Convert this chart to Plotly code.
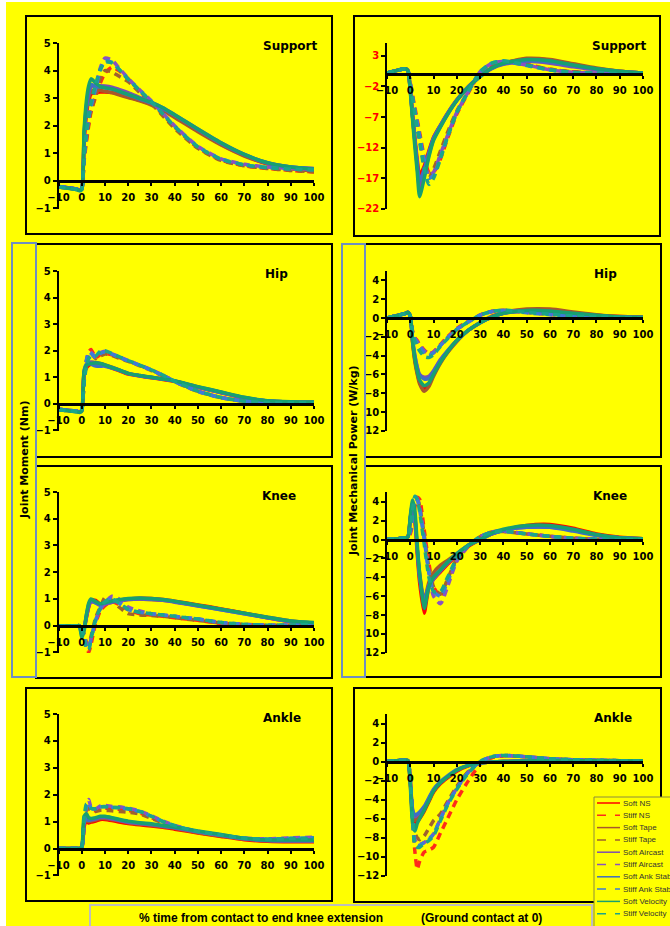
import plotly.graph_objects as go

W, H = 670, 926

# ---------------- data ----------------
X = [-10, -2, -1, 0, 1, 2, 3, 4, 6, 8, 10, 13, 16, 20, 25, 30, 35, 40, 50, 60, 70, 80, 90, 100]
X_TICKS = [-10, 0, 10, 20, 30, 40, 50, 60, 70, 80, 90, 100]

SERIES = ["Soft NS", "Stiff NS", "Soft Tape", "Stiff Tape", "Soft Aircast", "Stiff Aircast",
          "Soft Ank Stab", "Stiff Ank Stab", "Soft Velocity", "Stiff Velocity"]
COLORS = ["#FF0000", "#FF2A1A", "#A8582A", "#A0622D", "#7F4FB0", "#8A52C0",
          "#3D6FC4", "#3B7DD8", "#17A070", "#1BA58A"]
DASHES = ["solid", "7px,5px", "solid", "7px,5px", "solid", "7px,5px",
          "solid", "7px,5px", "solid", "7px,5px"]

support_moment = [
    [-0.20, -0.30, -0.33, -0.30, 1.40, 2.40, 2.90, 3.15, 3.20, 3.22, 3.22, 3.20, 3.15, 3.05, 2.92, 2.78, 2.58, 2.33, 1.82, 1.32, 0.92, 0.62, 0.46, 0.38],
    [-0.20, -0.30, -0.33, -0.30, 0.70, 1.40, 2.00, 2.50, 3.05, 3.55, 3.90, 4.12, 4.00, 3.70, 3.25, 2.85, 2.40, 1.95, 1.20, 0.75, 0.55, 0.45, 0.38, 0.32],
    [-0.22, -0.31, -0.34, -0.30, 1.50, 2.50, 3.00, 3.25, 3.30, 3.28, 3.25, 3.20, 3.12, 3.02, 2.90, 2.75, 2.55, 2.30, 1.78, 1.30, 0.90, 0.62, 0.45, 0.35],
    [-0.22, -0.31, -0.34, -0.30, 0.80, 1.50, 2.10, 2.55, 3.10, 3.70, 4.00, 3.95, 3.80, 3.60, 3.20, 2.80, 2.35, 1.90, 1.18, 0.74, 0.55, 0.45, 0.38, 0.33],
    [-0.20, -0.30, -0.34, -0.30, 1.60, 2.60, 3.15, 3.40, 3.45, 3.45, 3.44, 3.40, 3.32, 3.20, 3.02, 2.85, 2.65, 2.40, 1.88, 1.38, 0.96, 0.66, 0.50, 0.45],
    [-0.20, -0.30, -0.34, -0.30, 0.90, 1.70, 2.30, 2.75, 3.40, 4.10, 4.45, 4.38, 4.10, 3.72, 3.30, 2.90, 2.45, 2.00, 1.25, 0.80, 0.60, 0.50, 0.45, 0.42],
    [-0.20, -0.30, -0.35, -0.30, 1.70, 2.70, 3.25, 3.50, 3.42, 3.40, 3.38, 3.33, 3.25, 3.12, 2.97, 2.82, 2.62, 2.38, 1.86, 1.36, 0.95, 0.65, 0.50, 0.44],
    [-0.20, -0.30, -0.35, -0.30, 0.85, 1.65, 2.30, 2.70, 3.35, 4.00, 4.35, 4.30, 4.05, 3.70, 3.28, 2.88, 2.43, 1.98, 1.24, 0.79, 0.58, 0.48, 0.43, 0.40],
    [-0.22, -0.32, -0.36, -0.32, 1.80, 2.90, 3.45, 3.70, 3.55, 3.42, 3.38, 3.33, 3.25, 3.14, 2.99, 2.85, 2.65, 2.40, 1.88, 1.38, 0.96, 0.66, 0.50, 0.42],
    [-0.22, -0.32, -0.36, -0.32, 0.90, 1.75, 2.40, 2.85, 3.50, 4.05, 4.30, 4.28, 4.05, 3.68, 3.27, 2.87, 2.42, 1.97, 1.23, 0.78, 0.58, 0.48, 0.43, 0.40],
]

support_power = [
    [0.2, 0.9, 0.6, -2.5, -6.5, -10.5, -14.0, -16.5, -15.0, -12.5, -10.3, -8.3, -6.4, -4.2, -2.0, -0.3, 1.0, 1.8, 2.5, 2.3, 1.6, 0.9, 0.5, 0.2],
    [0.2, 0.9, 0.6, -1.5, -3.5, -5.5, -7.5, -9.5, -13.5, -16.0, -16.0, -13.8, -10.5, -6.5, -3.0, 0.2, 1.6, 2.0, 1.6, 0.8, 0.4, 0.2, 0.1, 0.0],
    [0.2, 0.9, 0.6, -2.5, -7.0, -11.0, -15.0, -18.0, -16.0, -13.0, -10.5, -8.5, -6.5, -4.3, -2.1, -0.4, 1.0, 1.8, 2.6, 2.4, 1.7, 1.0, 0.5, 0.2],
    [0.2, 0.9, 0.6, -1.5, -3.8, -6.0, -8.0, -10.0, -15.0, -17.0, -15.5, -12.5, -9.5, -6.0, -2.8, 0.4, 1.7, 2.0, 1.5, 0.8, 0.4, 0.2, 0.1, 0.0],
    [0.2, 0.9, 0.6, -2.5, -7.0, -11.0, -15.0, -18.5, -16.5, -13.2, -10.6, -8.5, -6.6, -4.3, -2.1, -0.4, 0.9, 1.6, 2.1, 1.8, 1.2, 0.7, 0.4, 0.2],
    [0.2, 0.9, 0.6, -1.5, -3.8, -6.0, -8.0, -10.5, -14.5, -16.5, -16.0, -13.0, -10.0, -6.2, -2.8, 0.4, 1.8, 2.1, 1.5, 0.7, 0.3, 0.2, 0.1, 0.0],
    [0.2, 0.9, 0.6, -2.5, -7.0, -11.0, -14.5, -17.5, -15.5, -12.8, -10.4, -8.3, -6.4, -4.2, -2.0, -0.3, 1.0, 1.7, 2.2, 2.0, 1.4, 0.8, 0.4, 0.2],
    [0.2, 0.9, 0.6, -1.5, -3.8, -6.0, -8.0, -10.0, -14.0, -17.0, -16.5, -13.5, -10.2, -6.2, -2.8, 0.4, 1.8, 2.1, 1.4, 0.7, 0.3, 0.2, 0.1, 0.0],
    [0.2, 0.9, 0.6, -2.8, -7.5, -12.0, -16.0, -20.0, -17.0, -13.5, -10.8, -8.6, -6.6, -4.3, -2.1, -0.4, 1.0, 1.8, 2.4, 2.2, 1.5, 0.9, 0.5, 0.2],
    [0.2, 0.9, 0.6, -1.8, -4.0, -6.5, -9.0, -11.0, -15.5, -18.0, -17.0, -13.8, -10.3, -6.3, -2.8, 0.4, 1.8, 2.2, 1.5, 0.7, 0.3, 0.2, 0.1, 0.0],
]

hip_moment = [
    [-0.20, -0.28, -0.30, -0.25, 1.10, 1.35, 1.45, 1.50, 1.52, 1.50, 1.45, 1.35, 1.25, 1.12, 1.05, 0.98, 0.92, 0.85, 0.62, 0.42, 0.22, 0.10, 0.06, 0.05],
    [-0.20, -0.28, -0.30, -0.22, 0.80, 1.60, 1.95, 2.05, 1.75, 1.85, 1.90, 1.85, 1.75, 1.62, 1.45, 1.28, 1.08, 0.85, 0.48, 0.24, 0.10, 0.05, 0.03, 0.03],
    [-0.22, -0.29, -0.31, -0.25, 1.15, 1.40, 1.50, 1.55, 1.55, 1.52, 1.47, 1.38, 1.28, 1.15, 1.07, 1.00, 0.94, 0.86, 0.64, 0.44, 0.24, 0.11, 0.07, 0.06],
    [-0.22, -0.29, -0.31, -0.22, 0.85, 1.55, 1.85, 1.90, 1.70, 1.80, 1.88, 1.82, 1.72, 1.60, 1.43, 1.25, 1.05, 0.83, 0.47, 0.23, 0.10, 0.05, 0.03, 0.03],
    [-0.20, -0.28, -0.30, -0.25, 1.20, 1.45, 1.55, 1.58, 1.55, 1.50, 1.45, 1.36, 1.27, 1.14, 1.06, 0.99, 0.93, 0.86, 0.63, 0.43, 0.23, 0.11, 0.07, 0.06],
    [-0.20, -0.28, -0.30, -0.22, 0.85, 1.60, 1.90, 1.95, 1.75, 1.92, 1.98, 1.88, 1.78, 1.63, 1.46, 1.28, 1.08, 0.85, 0.48, 0.24, 0.10, 0.05, 0.03, 0.03],
    [-0.20, -0.28, -0.30, -0.25, 1.25, 1.50, 1.55, 1.50, 1.42, 1.42, 1.42, 1.35, 1.27, 1.14, 1.06, 0.99, 0.93, 0.86, 0.63, 0.43, 0.23, 0.11, 0.07, 0.06],
    [-0.20, -0.28, -0.30, -0.22, 0.90, 1.65, 1.95, 1.90, 1.75, 1.90, 1.95, 1.87, 1.76, 1.62, 1.45, 1.27, 1.07, 0.84, 0.47, 0.23, 0.10, 0.05, 0.03, 0.03],
    [-0.22, -0.30, -0.32, -0.28, 1.20, 1.45, 1.50, 1.52, 1.55, 1.52, 1.47, 1.37, 1.28, 1.15, 1.07, 1.00, 0.94, 0.87, 0.65, 0.45, 0.25, 0.12, 0.08, 0.07],
    [-0.22, -0.30, -0.32, -0.24, 0.80, 1.40, 1.70, 1.80, 1.80, 1.98, 2.00, 1.90, 1.78, 1.63, 1.46, 1.28, 1.08, 0.85, 0.48, 0.24, 0.10, 0.05, 0.03, 0.03],
]

hip_power = [
    [0.0, 0.5, 0.6, 0.2, -2.5, -4.5, -5.8, -6.8, -7.5, -7.0, -6.0, -4.6, -3.6, -2.4, -1.3, -0.5, 0.1, 0.5, 0.80, 0.80, 0.55, 0.30, 0.15, 0.10],
    [0.0, 0.5, 0.6, 0.2, -1.4, -2.1, -2.4, -2.8, -3.4, -3.8, -3.6, -2.8, -2.0, -1.1, -0.3, 0.3, 0.7, 0.8, 0.60, 0.40, 0.20, 0.10, 0.05, 0.00],
    [0.0, 0.5, 0.6, 0.2, -2.6, -4.7, -6.0, -7.0, -7.8, -7.3, -6.2, -4.8, -3.7, -2.5, -1.3, -0.5, 0.2, 0.6, 0.95, 0.95, 0.65, 0.35, 0.15, 0.10],
    [0.0, 0.5, 0.6, 0.2, -1.5, -2.2, -2.6, -3.0, -3.5, -3.9, -3.7, -2.9, -2.1, -1.2, -0.4, 0.3, 0.7, 0.8, 0.60, 0.40, 0.20, 0.10, 0.05, 0.00],
    [0.0, 0.5, 0.6, 0.2, -2.3, -4.0, -5.2, -6.0, -6.3, -6.2, -5.6, -4.4, -3.5, -2.4, -1.3, -0.5, 0.1, 0.5, 0.75, 0.70, 0.45, 0.25, 0.10, 0.05],
    [0.0, 0.5, 0.6, 0.2, -1.5, -2.2, -2.5, -2.9, -3.5, -3.8, -3.6, -2.9, -2.1, -1.2, -0.4, 0.3, 0.7, 0.8, 0.60, 0.40, 0.20, 0.10, 0.05, 0.00],
    [0.0, 0.5, 0.6, 0.2, -2.3, -4.1, -5.3, -6.1, -6.5, -6.4, -5.7, -4.5, -3.5, -2.4, -1.3, -0.5, 0.1, 0.5, 0.75, 0.70, 0.45, 0.25, 0.10, 0.05],
    [0.0, 0.5, 0.6, 0.2, -1.6, -2.3, -2.6, -3.0, -3.7, -4.0, -3.7, -2.9, -2.1, -1.2, -0.4, 0.3, 0.7, 0.8, 0.55, 0.35, 0.15, 0.08, 0.03, 0.00],
    [0.0, 0.5, 0.6, 0.2, -2.5, -4.4, -5.7, -6.6, -7.2, -6.9, -6.0, -4.7, -3.6, -2.4, -1.3, -0.5, 0.1, 0.5, 0.80, 0.75, 0.50, 0.30, 0.12, 0.08],
    [0.0, 0.5, 0.6, 0.2, -1.7, -2.5, -3.0, -3.5, -4.1, -4.2, -3.9, -3.0, -2.2, -1.2, -0.4, 0.3, 0.7, 0.85, 0.60, 0.40, 0.20, 0.10, 0.05, 0.00],
]

knee_moment = [
    [0, 0, 0, -0.20, -0.10, 0.30, 0.70, 0.95, 0.95, 0.80, 0.85, 0.90, 0.95, 1.00, 1.03, 1.02, 0.98, 0.92, 0.78, 0.63, 0.47, 0.30, 0.15, 0.05],
    [0, 0, 0, -0.10, -0.40, -0.80, -1.00, -0.70, 0.10, 0.55, 0.75, 0.90, 0.80, 0.60, 0.45, 0.40, 0.35, 0.30, 0.20, 0.08, 0.02, 0.00, 0.00, 0.00],
    [0, 0, 0, -0.25, -0.10, 0.35, 0.75, 0.95, 0.90, 0.80, 0.82, 0.88, 0.93, 0.98, 1.00, 0.98, 0.95, 0.90, 0.76, 0.62, 0.47, 0.32, 0.18, 0.10],
    [0, 0, 0, -0.10, -0.30, -0.60, -0.70, -0.40, 0.30, 0.70, 1.05, 0.95, 0.70, 0.45, 0.40, 0.38, 0.35, 0.30, 0.20, 0.10, 0.05, 0.02, 0.02, 0.05],
    [0, 0, 0, -0.30, -0.15, 0.30, 0.70, 0.90, 0.85, 0.75, 0.80, 0.88, 0.93, 0.98, 1.00, 0.98, 0.95, 0.88, 0.74, 0.60, 0.45, 0.30, 0.15, 0.08],
    [0, 0, 0, -0.10, -0.35, -0.70, -0.80, -0.50, 0.20, 0.60, 0.85, 1.10, 1.00, 0.70, 0.55, 0.45, 0.40, 0.35, 0.25, 0.12, 0.05, 0.02, 0.02, 0.05],
    [0, 0, 0, -0.35, -0.10, 0.40, 0.80, 0.95, 0.85, 0.80, 0.85, 0.90, 0.95, 1.00, 1.02, 1.00, 0.97, 0.90, 0.75, 0.60, 0.45, 0.30, 0.16, 0.10],
    [0, 0, 0, -0.10, -0.40, -0.75, -0.85, -0.50, 0.20, 0.65, 0.90, 1.00, 0.85, 0.60, 0.50, 0.45, 0.40, 0.35, 0.25, 0.12, 0.05, 0.02, 0.02, 0.05],
    [0, 0, 0, -0.45, -0.20, 0.40, 0.85, 1.00, 0.90, 0.82, 0.86, 0.92, 0.97, 1.02, 1.04, 1.02, 0.98, 0.92, 0.77, 0.62, 0.47, 0.32, 0.18, 0.12],
    [0, 0, 0, -0.10, -0.45, -0.85, -0.90, -0.50, 0.25, 0.65, 0.90, 1.00, 0.85, 0.62, 0.50, 0.45, 0.40, 0.35, 0.25, 0.12, 0.05, 0.02, 0.03, 0.05],
]

knee_power = [
    [0, 0.2, 0.3, 2.0, 3.5, 2.0, -1.5, -4.5, -7.8, -5.0, -4.2, -3.4, -2.6, -1.7, -0.7, 0.0, 0.6, 1.0, 1.5, 1.6, 1.2, 0.6, 0.25, 0.1],
    [0, 0.2, 0.3, 0.6, 1.8, 3.5, 4.5, 4.3, 1.0, -2.5, -5.0, -6.0, -4.5, -2.2, -0.7, 0.3, 0.8, 0.9, 0.6, 0.35, 0.15, 0.05, 0.02, 0.0],
    [0, 0.2, 0.3, 2.2, 3.7, 2.2, -1.0, -3.5, -6.5, -4.5, -3.5, -2.7, -2.2, -1.5, -0.6, 0.0, 0.6, 1.0, 1.4, 1.4, 1.0, 0.5, 0.2, 0.1],
    [0, 0.2, 0.3, 0.8, 2.2, 3.8, 4.3, 3.6, 0.5, -3.0, -5.0, -5.8, -4.2, -2.0, -0.6, 0.3, 0.8, 0.85, 0.6, 0.35, 0.15, 0.05, 0.02, 0.0],
    [0, 0.2, 0.3, 2.2, 3.8, 2.3, -1.0, -3.8, -6.8, -5.0, -4.2, -3.3, -2.5, -1.6, -0.6, 0.0, 0.6, 1.0, 1.3, 1.3, 1.0, 0.5, 0.2, 0.1],
    [0, 0.2, 0.3, 0.8, 2.3, 4.0, 4.4, 3.5, 0.2, -3.5, -6.0, -6.8, -5.0, -2.3, -0.7, 0.3, 0.8, 0.9, 0.6, 0.35, 0.15, 0.05, 0.02, 0.0],
    [0, 0.2, 0.3, 2.3, 3.9, 2.5, -1.0, -4.0, -6.5, -4.8, -4.0, -3.2, -2.4, -1.5, -0.6, 0.0, 0.6, 1.0, 1.3, 1.3, 0.9, 0.45, 0.2, 0.1],
    [0, 0.2, 0.3, 1.0, 2.8, 4.3, 4.2, 3.2, 0.0, -3.5, -5.5, -6.0, -4.5, -2.1, -0.6, 0.3, 0.8, 0.9, 0.6, 0.35, 0.15, 0.05, 0.02, 0.0],
    [0, 0.2, 0.3, 2.5, 4.2, 3.0, -0.5, -3.5, -7.3, -5.0, -4.0, -3.2, -2.4, -1.5, -0.6, 0.0, 0.7, 1.1, 1.5, 1.5, 1.1, 0.55, 0.2, 0.1],
    [0, 0.2, 0.3, 1.2, 3.2, 4.6, 4.3, 3.0, -0.5, -4.0, -5.5, -5.5, -4.0, -2.0, -0.6, 0.3, 0.8, 0.9, 0.6, 0.35, 0.15, 0.05, 0.02, 0.0],
]

ankle_moment = [
    [0, 0, 0, 0.03, 0.80, 1.00, 0.95, 0.98, 1.02, 1.08, 1.08, 1.04, 0.99, 0.93, 0.88, 0.84, 0.79, 0.72, 0.58, 0.45, 0.33, 0.27, 0.25, 0.25],
    [0, 0, 0, 0.03, 0.70, 1.40, 1.55, 1.45, 1.40, 1.48, 1.50, 1.48, 1.46, 1.42, 1.32, 1.15, 0.98, 0.82, 0.60, 0.48, 0.37, 0.33, 0.34, 0.36],
    [0, 0, 0, 0.03, 0.90, 1.05, 1.00, 1.02, 1.06, 1.12, 1.12, 1.08, 1.03, 0.96, 0.91, 0.87, 0.81, 0.75, 0.60, 0.47, 0.35, 0.29, 0.27, 0.27],
    [0, 0, 0, 0.03, 0.80, 1.45, 1.50, 1.40, 1.38, 1.42, 1.42, 1.40, 1.38, 1.35, 1.28, 1.12, 0.95, 0.80, 0.60, 0.47, 0.36, 0.32, 0.33, 0.35],
    [0, 0, 0, 0.03, 0.95, 1.10, 1.05, 1.06, 1.10, 1.15, 1.15, 1.10, 1.05, 0.98, 0.93, 0.89, 0.83, 0.77, 0.62, 0.49, 0.36, 0.30, 0.28, 0.28],
    [0, 0, 0, 0.03, 0.90, 1.60, 1.82, 1.55, 1.48, 1.58, 1.60, 1.56, 1.55, 1.50, 1.40, 1.22, 1.02, 0.86, 0.64, 0.50, 0.39, 0.36, 0.40, 0.42],
    [0, 0, 0, 0.03, 1.00, 1.10, 1.05, 1.08, 1.12, 1.18, 1.18, 1.13, 1.07, 1.00, 0.95, 0.90, 0.84, 0.78, 0.63, 0.50, 0.37, 0.31, 0.30, 0.30],
    [0, 0, 0, 0.03, 0.90, 1.55, 1.70, 1.50, 1.46, 1.55, 1.56, 1.53, 1.52, 1.47, 1.37, 1.20, 1.00, 0.85, 0.63, 0.50, 0.38, 0.35, 0.38, 0.40],
    [0, 0, 0, 0.05, 1.20, 1.30, 1.15, 1.12, 1.15, 1.20, 1.20, 1.15, 1.09, 1.02, 0.96, 0.92, 0.86, 0.80, 0.65, 0.52, 0.38, 0.32, 0.32, 0.32],
    [0, 0, 0, 0.05, 1.10, 1.65, 1.60, 1.50, 1.48, 1.55, 1.55, 1.53, 1.52, 1.48, 1.38, 1.20, 1.00, 0.85, 0.63, 0.50, 0.38, 0.35, 0.37, 0.38],
]

ankle_power = [
    [0, 0.15, 0.1, -2.2, -5.8, -6.5, -6.3, -6.0, -5.2, -4.2, -3.2, -2.3, -1.7, -1.0, -0.45, -0.15, -0.05, 0.0, 0.05, 0.1, 0.1, 0.1, 0.1, 0.1],
    [0, 0.15, 0.1, -2.0, -6.0, -9.5, -11.3, -10.5, -9.5, -9.3, -9.0, -7.5, -6.0, -4.0, -2.0, -0.3, 0.4, 0.6, 0.5, 0.3, 0.2, 0.15, 0.1, 0.05],
    [0, 0.15, 0.1, -2.0, -5.5, -6.2, -6.0, -5.6, -4.9, -4.0, -3.0, -2.2, -1.6, -0.9, -0.4, -0.15, -0.05, 0.0, 0.05, 0.1, 0.1, 0.1, 0.1, 0.1],
    [0, 0.15, 0.1, -1.8, -5.5, -7.5, -8.0, -8.2, -7.8, -7.0, -6.2, -5.5, -4.2, -2.6, -1.0, 0.0, 0.5, 0.65, 0.5, 0.3, 0.2, 0.15, 0.1, 0.05],
    [0, 0.15, 0.1, -2.0, -5.2, -5.8, -5.6, -5.4, -4.8, -3.9, -3.0, -2.2, -1.6, -0.9, -0.4, -0.15, -0.05, 0.0, 0.05, 0.1, 0.1, 0.1, 0.1, 0.1],
    [0, 0.15, 0.1, -1.8, -5.8, -8.2, -8.6, -8.7, -8.5, -8.1, -7.6, -6.0, -4.4, -2.8, -1.1, 0.0, 0.5, 0.65, 0.5, 0.3, 0.2, 0.15, 0.1, 0.05],
    [0, 0.15, 0.1, -2.0, -5.0, -5.6, -5.5, -5.3, -4.7, -3.8, -2.9, -2.1, -1.5, -0.85, -0.4, -0.15, -0.05, 0.0, 0.05, 0.1, 0.1, 0.1, 0.1, 0.1],
    [0, 0.15, 0.1, -1.8, -6.0, -8.6, -8.8, -8.8, -8.5, -8.2, -7.6, -6.0, -4.5, -2.8, -1.1, 0.0, 0.5, 0.65, 0.5, 0.3, 0.2, 0.15, 0.1, 0.05],
    [0, 0.15, 0.1, -2.5, -6.5, -7.3, -6.5, -6.0, -5.1, -4.1, -3.1, -2.2, -1.6, -0.9, -0.4, -0.15, -0.05, 0.0, 0.05, 0.1, 0.1, 0.1, 0.1, 0.1],
    [0, 0.15, 0.1, -2.0, -6.2, -8.8, -9.0, -9.0, -8.6, -8.3, -7.8, -6.2, -4.6, -2.9, -1.2, 0.0, 0.5, 0.65, 0.5, 0.3, 0.2, 0.15, 0.1, 0.05],
]

PANEL_TITLES = ["Support", "Support", "Hip", "Hip", "Knee", "Knee", "Ankle", "Ankle"]
PANEL_DATA = [support_moment, support_power, hip_moment, hip_power,
              knee_moment, knee_power, ankle_moment, ankle_power]
Y_TITLE_LEFT = "Joint Moment (Nm)"
Y_TITLE_RIGHT = "Joint Mechanical Power (W/kg)"
X_TITLE_A = "% time from contact to end knee extension"
X_TITLE_B = "(Ground contact at 0)"

# ---------------- layout helpers ----------------
FONT = "DejaVu Sans"
COL_X = [(58.5, 314.0), (387.0, 643.0)]
ROW_Y = [(43, 209), (271, 431), (492, 653), (714, 876)]
Y_RANGES = [(-1, 5), (-22, 5.1), (-1, 5), (-12, 5), (-1, 5), (-12, 5.05), (-1, 5), (-12, 5)]
Y_TICK0 = [0, 3, 0, 0, 0, 0, 0, 0]
Y_DTICK = [1, 5, 1, 2, 1, 2, 1, 2]
TICK_COLORS = ["black", "#FF0000", "black", "black", "black", "black", "black", "black"]
TITLE_POS = [(290, 46), (619, 46), (276, 274), (605, 274), (279, 496), (610, 496), (282, 718), (613, 718)]
PANEL_BOX = [(26, 16, 332, 234), (354, 16, 660, 236), (36, 244, 332, 457), (354, 244, 661, 457),
             (36, 466, 332, 678), (354, 466, 661, 677), (26, 688, 332, 901), (354, 688, 661, 902)]


def px(x):
    return x / W


def py(y):
    return 1 - y / H


fig = go.Figure()
shapes = []
annotations = []

shapes.append(dict(type="rect", xref="paper", yref="paper", x0=px(6), x1=px(W), y0=py(H), y1=py(2),
                   fillcolor="#FFFF00", line=dict(width=0), layer="below"))

for p in range(8):
    col, row = p % 2, p // 2
    sfx = "" if p == 0 else str(p + 1)
    x0, x1 = COL_X[col]
    ytop, ybot = ROW_Y[row]
    ymin, ymax = Y_RANGES[p]
    d0, d1 = py(ybot), py(ytop)
    zero_pos = d0 + (0 - ymin) / (ymax - ymin) * (d1 - d0)

    fig.layout["xaxis" + sfx] = dict(
        domain=[px(x0), px(x1)], range=[-10, 100], anchor="free", position=zero_pos,
        showline=True, linewidth=3, linecolor="black", ticks="outside", ticklen=3, tickwidth=2,
        tickcolor="black", tickmode="array", tickvals=X_TICKS, ticklabelstandoff=3,
        tickfont=dict(family=FONT, size=10, color="black", weight="bold"), automargin=False,
        showgrid=False, zeroline=False, fixedrange=True)
    fig.layout["yaxis" + sfx] = dict(
        domain=[d0, d1], range=[ymin - 0.02, ymax], anchor="x" + sfx, automargin=False,
        showline=True, linewidth=1.5, linecolor="black", ticks="outside", ticklen=4, tickwidth=1.5,
        tickcolor="black", tickmode="linear", tick0=Y_TICK0[p], dtick=Y_DTICK[p],
        tickfont=dict(family=FONT, size=10, color=TICK_COLORS[p], weight="bold"),
        showgrid=False, zeroline=False, fixedrange=True)

    for i, vals in enumerate(PANEL_DATA[p]):
        fig.add_trace(go.Scatter(
            x=X, y=vals, mode="lines", name=SERIES[i], showlegend=False,
            line=dict(color=COLORS[i], width=3.5, dash=DASHES[i], shape="spline", smoothing=0.6),
            xaxis="x" + sfx, yaxis="y" + sfx, hoverinfo="skip"))

    bx0, by0, bx1, by1 = PANEL_BOX[p]
    shapes.append(dict(type="rect", xref="paper", yref="paper", x0=px(bx0), x1=px(bx1),
                       y0=py(by1), y1=py(by0), line=dict(color="black", width=2), layer="below"))
    tx, ty = TITLE_POS[p]
    annotations.append(dict(text=PANEL_TITLES[p], x=px(tx), y=py(ty), xref="paper", yref="paper",
                            showarrow=False, xanchor="center", yanchor="middle",
                            font=dict(family=FONT, size=12, color="black", weight="bold")))

for (bx0, by0, bx1, by1), txt, cx in [((12, 243, 36, 677), Y_TITLE_LEFT, 24),
                                       ((342, 244, 365, 677), Y_TITLE_RIGHT, 353.5)]:
    shapes.append(dict(type="rect", xref="paper", yref="paper", x0=px(bx0), x1=px(bx1),
                       y0=py(by1), y1=py(by0), fillcolor="#FFFF00",
                       line=dict(color="#6F8FC0", width=2)))
    annotations.append(dict(text=txt, x=px(cx), y=py((by0 + by1) / 2), xref="paper", yref="paper",
                            showarrow=False, textangle=-90, xanchor="center", yanchor="middle",
                            font=dict(family=FONT, size=11, color="black", weight="bold")))

shapes.append(dict(type="rect", xref="paper", yref="paper", x0=px(90), x1=px(592),
                   y0=py(928), y1=py(905), fillcolor="#FFFF00", line=dict(color="#BDBDBD", width=2)))
annotations.append(dict(text=X_TITLE_A, x=px(261), y=py(918), xref="paper", yref="paper",
                        showarrow=False, xanchor="center", yanchor="middle",
                        font=dict(family="Liberation Sans", size=12, color="black", weight="bold")))
annotations.append(dict(text=X_TITLE_B, x=px(481), y=py(918), xref="paper", yref="paper",
                        showarrow=False, xanchor="center", yanchor="middle",
                        font=dict(family="Liberation Sans", size=12, color="black", weight="bold")))

shapes.append(dict(type="rect", xref="paper", yref="paper", x0=px(594), x1=px(672),
                   y0=py(928), y1=py(797), fillcolor="#FFFF00", line=dict(color="#8C8C3C", width=1)))
for i, name in enumerate(SERIES):
    ly = 803 + i * 12.3
    shapes.append(dict(type="line", xref="paper", yref="paper", x0=px(597), x1=px(620),
                       y0=py(ly), y1=py(ly),
                       line=dict(color=COLORS[i], width=1.5, dash="dash" if DASHES[i] != "solid" else "solid")))
    annotations.append(dict(text=name, x=px(621), y=py(ly), xref="paper", yref="paper",
                            showarrow=False, xanchor="left", yanchor="middle",
                            font=dict(family="Liberation Sans", size=8, color="#333333")))

fig.update_layout(
    width=W, height=H, margin=dict(l=0, r=0, t=0, b=0, pad=0), autosize=False,
    paper_bgcolor="white", plot_bgcolor="rgba(0,0,0,0)",
    shapes=shapes, annotations=annotations, showlegend=False,
)

fig.write_html("out.html", config={"displayModeBar": False},
               post_script="document.body.style.margin='0';")
